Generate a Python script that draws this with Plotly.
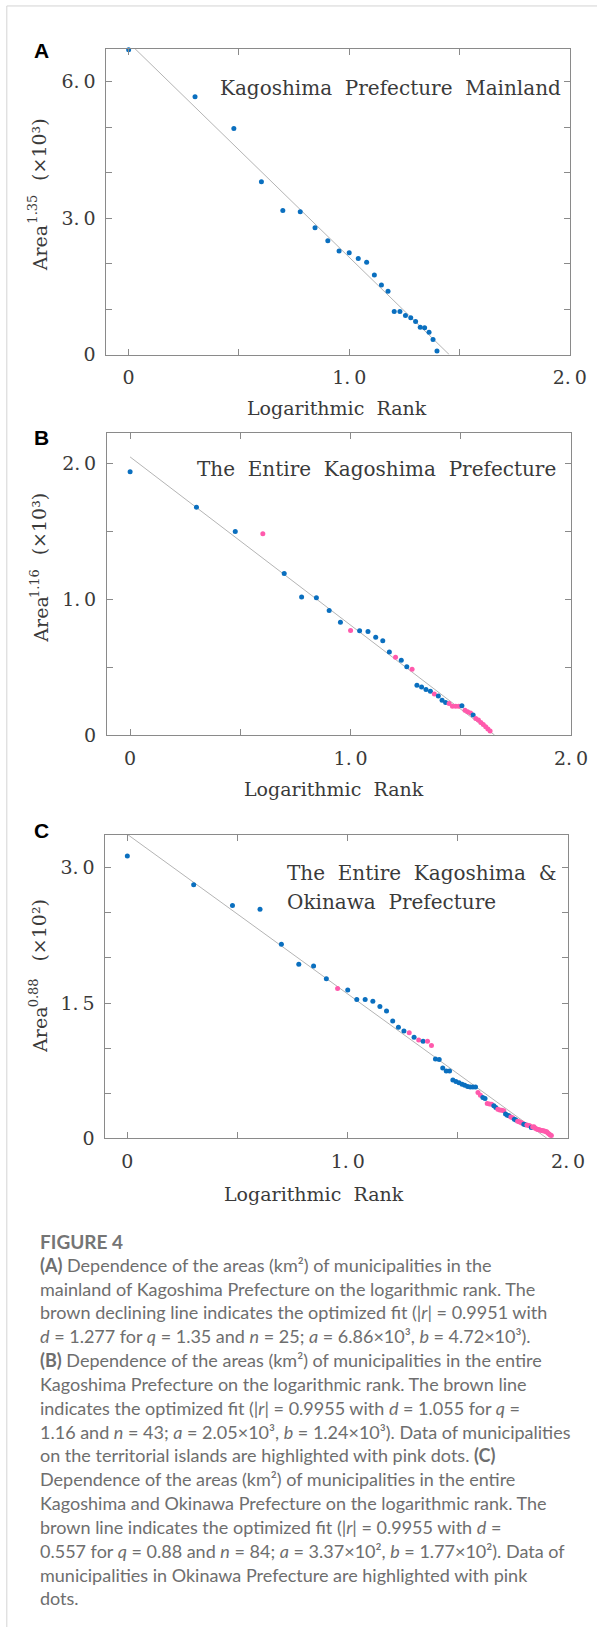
import plotly.graph_objects as go

W, H = 614, 1638

# ---------------- data ----------------
# Panel A: Kagoshima mainland (n = 25)
a_rank_log = [0.000, 0.301, 0.477, 0.602, 0.699, 0.778, 0.845, 0.903, 0.954, 1.000,
              1.041, 1.079, 1.114, 1.146, 1.176, 1.204, 1.230, 1.255, 1.279, 1.301,
              1.322, 1.342, 1.362, 1.380, 1.398]
a_area = [6.70, 5.67, 4.97, 3.80, 3.17, 3.14, 2.79, 2.50, 2.28, 2.24,
          2.11, 2.03, 1.75, 1.53, 1.39, 0.95, 0.95, 0.86, 0.81, 0.73,
          0.60, 0.59, 0.49, 0.33, 0.08]
a_group = ["m"] * 25
a_fit = (6.86, 4.72)

# Panel B: entire Kagoshima (n = 43); "i" = territorial islands (pink)
b_rank_log = [0.000, 0.301, 0.477, 0.602, 0.699, 0.778, 0.845, 0.903, 0.954, 1.000,
              1.041, 1.079, 1.114, 1.146, 1.176, 1.204, 1.230, 1.255, 1.279, 1.301,
              1.322, 1.342, 1.362, 1.380, 1.398, 1.415, 1.431, 1.447, 1.462, 1.477,
              1.491, 1.505, 1.519, 1.531, 1.544, 1.556, 1.568, 1.580, 1.591, 1.602,
              1.613, 1.623, 1.633]
b_area = [1.941, 1.679, 1.500, 1.483, 1.190, 1.018, 1.011, 0.918, 0.832, 0.771,
          0.769, 0.764, 0.720, 0.695, 0.612, 0.573, 0.551, 0.504, 0.485, 0.366,
          0.354, 0.335, 0.322, 0.303, 0.288, 0.256, 0.239, 0.232, 0.212, 0.212,
          0.212, 0.215, 0.183, 0.171, 0.163, 0.147, 0.122, 0.110, 0.093, 0.078,
          0.061, 0.045, 0.030]
b_group = ["m", "m", "m", "i", "m", "m", "m", "m", "m", "i",
           "m", "m", "m", "m", "m", "i", "m", "m", "i", "m",
           "m", "m", "m", "i", "m", "m", "m", "i", "i", "i",
           "i", "m", "i", "i", "i", "m", "i", "i", "i", "i",
           "i", "i", "i"]
b_fit = (2.05, 1.24)

# Panel C: Kagoshima & Okinawa (n = 84); "i" = Okinawa (pink)
c_rank_log = [0.000, 0.301, 0.477, 0.602, 0.699, 0.778, 0.845, 0.903, 0.954, 1.000,
              1.041, 1.079, 1.114, 1.146, 1.176, 1.204, 1.230, 1.255, 1.279, 1.301,
              1.322, 1.342, 1.362, 1.380, 1.398, 1.415, 1.431, 1.447, 1.462, 1.477,
              1.491, 1.505, 1.519, 1.531, 1.544, 1.556, 1.568, 1.580, 1.591, 1.602,
              1.613, 1.623, 1.633, 1.643, 1.653, 1.663, 1.672, 1.681, 1.690, 1.699,
              1.708, 1.716, 1.724, 1.732, 1.740, 1.748, 1.756, 1.763, 1.771, 1.778,
              1.785, 1.792, 1.799, 1.806, 1.813, 1.820, 1.826, 1.833, 1.839, 1.845,
              1.851, 1.857, 1.863, 1.869, 1.875, 1.881, 1.886, 1.892, 1.898, 1.903,
              1.908, 1.914, 1.919, 1.924]
c_area = [3.13, 2.81, 2.58, 2.54, 2.15, 1.93, 1.91, 1.77, 1.66, 1.645,
          1.54, 1.54, 1.52, 1.46, 1.41, 1.30, 1.23, 1.19, 1.17, 1.12,
          1.09, 1.075, 1.075, 1.03, 0.88, 0.874, 0.78, 0.745, 0.745, 0.646,
          0.63, 0.617, 0.60, 0.587, 0.575, 0.57, 0.569, 0.569, 0.507, 0.477,
          0.452, 0.44, 0.385, 0.38, 0.378, 0.36, 0.341, 0.323, 0.315, 0.312,
          0.305, 0.27, 0.255, 0.25, 0.235, 0.228, 0.21, 0.202, 0.19, 0.184,
          0.175, 0.167, 0.155, 0.151, 0.147, 0.142, 0.138, 0.121, 0.125, 0.129,
          0.112, 0.103, 0.098, 0.094, 0.09, 0.087, 0.085, 0.08, 0.076, 0.072,
          0.06, 0.047, 0.037, 0.03]
c_group = ["m", "m", "m", "m", "m", "m", "m", "m", "i", "m",
           "m", "m", "m", "m", "m", "m", "m", "m", "i", "m",
           "i", "m", "i", "i", "m", "m", "m", "m", "m", "m",
           "m", "m", "m", "m", "m", "m", "m", "m", "i", "i",
           "m", "m", "i", "i", "i", "m", "m", "i", "i", "i",
           "i", "m", "m", "m", "i", "i", "m", "m", "i", "i",
           "i", "i", "m", "m", "i", "i", "i", "m", "i", "i",
           "i", "i", "i", "i", "i", "i", "i", "i", "i", "i",
           "i", "i", "i", "i"]
c_fit = (3.37, 1.77)

NB = "\u00a0"
panel_letters = ["A", "B", "C"]
panel_titles = [["Kagoshima" + NB + " Prefecture" + NB + " Mainland"],
                ["The" + NB + " Entire" + NB + " Kagoshima" + NB + " Prefecture"],
                ["The" + NB + " Entire" + NB + " Kagoshima" + NB + " &",
                 "Okinawa" + NB + " Prefecture"]]
y_title_base = "Area"
y_title_exp = ["1.35", "1.16", "0.88"]
y_title_unit = ["(×10³)", "(×10³)", "(×10²)"]
x_title = "Logarithmic" + NB + " Rank"
x_major = [0, 1.0, 2.0]
x_major_text = ["0", "1.\u20090", "2.\u20090"]
x_minor = [0.5, 1.5]
y_major = [[0, 3, 6], [0, 1.0, 2.0], [0, 1.5, 3.0]]
y_major_text = [["0", "3.\u20090", "6.\u20090"],
                ["0", "1.\u20090", "2.\u20090"],
                ["0", "1.\u20095", "3.\u20090"]]
y_minor = [[1, 2, 4, 5], [0.5, 1.5], [0.5, 1.0, 2.0, 2.5]]

fig_label = "FIGURE 4"
caption_lines = [
    "<b>(A)</b> Dependence of the areas (km²) of municipalities in the",
    "mainland of Kagoshima Prefecture on the logarithmic rank. The",
    "brown declining line indicates the optimized fit (|<i>r</i>| = 0.9951 with",
    "<i>d</i> = 1.277 for <i>q</i> = 1.35 and <i>n</i> = 25; <i>a</i> = 6.86×10³, <i>b</i> = 4.72×10³).",
    "<b>(B)</b> Dependence of the areas (km²) of municipalities in the entire",
    "Kagoshima Prefecture on the logarithmic rank. The brown line",
    "indicates the optimized fit (|<i>r</i>| = 0.9955 with <i>d</i> = 1.055 for <i>q</i> =",
    "1.16 and <i>n</i> = 43; <i>a</i> = 2.05×10³, <i>b</i> = 1.24×10³). Data of municipalities",
    "on the territorial islands are highlighted with pink dots. <b>(C)</b>",
    "Dependence of the areas (km²) of municipalities in the entire",
    "Kagoshima and Okinawa Prefecture on the logarithmic rank. The",
    "brown line indicates the optimized fit (|<i>r</i>| = 0.9955 with <i>d</i> =",
    "0.557 for <i>q</i> = 0.88 and <i>n</i> = 84; <i>a</i> = 3.37×10², <i>b</i> = 1.77×10²). Data of",
    "municipalities in Okinawa Prefecture are highlighted with pink",
    "dots.",
]

# ---------------- layout / style ----------------
BLUE = "#0a6fbf"
PINK = "#ff5aac"
SERIF = "DejaVu Serif"
TXT = "#3a3a3a"
AXC = "#8a8a8a"

def px(x):
    return x / W

def py(y):
    return 1 - y / H

# pixel boxes of the three plot areas: left, right, top, bottom
boxes = [(109.3, 586.0, 49.0, 357.0),
         (110.0, 587.3, 435.7, 740.0),
         (108.3, 584.3, 840.7, 1146.0)]
x_ranges = [[-0.1014, 2.0], [-0.105, 2.0], [-0.100, 2.0]]
y_ranges = [[0, 6.725], [0, 2.228], [0, 3.362]]
# y-title pieces: (x, y) centres of "Area", exponent, unit
ytitle_parts = [[(41, 250), (34, 211), (40, 150)],
                [(42, 624), (35, 588), (41, 527)],
                [(41, 1037), (34, 1000), (40, 936)]]
xtitle_pos = [(347, 410.7), (343, 794), (323, 1201.7)]
letter_pos = [(33, 51), (33, 440), (33, 836)]
ptitle_pos = [[(224, 88.3, "left")], [(201, 472.3, "left")],
              [(293, 879, "left"), (293, 907.7, "left")]]

panels = [(a_rank_log, a_area, a_group, a_fit),
          (b_rank_log, b_area, b_group, b_fit),
          (c_rank_log, c_area, c_group, c_fit)]

fig = go.Figure()
layout = dict(width=W, height=H, autosize=False,
              margin=dict(l=0, r=0, t=0, b=0),
              paper_bgcolor="white", plot_bgcolor="white",
              showlegend=False, annotations=[], shapes=[])

color_map = {"m": BLUE, "i": PINK}
for k, (xs, ys, grp, (fa, fb)) in enumerate(panels):
    sfx = "" if k == 0 else str(k + 1)
    xa, ya = "x" + sfx, "y" + sfx
    # fit line from the two fit parameters
    fig.add_trace(go.Scatter(x=[0, fa / fb], y=[fa, 0], mode="lines",
                             line=dict(color="#b4b4b4", width=1),
                             xaxis=xa, yaxis=ya, hoverinfo="skip"))
    fig.add_trace(go.Scatter(x=xs, y=ys, mode="markers",
                             marker=dict(size=5, color=[color_map[g] for g in grp],
                                         line=dict(width=0)),
                             xaxis=xa, yaxis=ya, cliponaxis=False))
    l, r, t, b = boxes[k]
    common = dict(showgrid=False, zeroline=False, showline=True, linecolor=AXC,
                  linewidth=1, mirror="ticks", ticks="inside", ticklen=6,
                  tickcolor=AXC, tickwidth=1, ticklabelstandoff=6,
                  tickfont=dict(family=SERIF, size=19, color=TXT))
    layout["xaxis" + sfx] = dict(common, domain=[px(l), px(r)], range=x_ranges[k],
                                 anchor=ya, tickmode="array", tickvals=x_major,
                                 ticktext=x_major_text,
                                 minor=dict(tickmode="array", tickvals=x_minor,
                                            ticks="inside", ticklen=6,
                                            tickcolor=AXC, tickwidth=1))
    layout["yaxis" + sfx] = dict(common, domain=[py(b), py(t)], range=y_ranges[k],
                                 anchor=xa, tickmode="array", tickvals=y_major[k],
                                 ticktext=y_major_text[k],
                                 minor=dict(tickmode="array", tickvals=y_minor[k],
                                            ticks="inside", ticklen=6,
                                            tickcolor=AXC, tickwidth=1))
    ann = layout["annotations"]
    pieces = [(y_title_base, 19), (y_title_exp[k], 13), (y_title_unit[k], 19)]
    for (txt, fs), (tx, ty) in zip(pieces, ytitle_parts[k]):
        ann.append(dict(text=txt, x=px(tx), y=py(ty), xref="paper", yref="paper",
                        textangle=-90, showarrow=False, xanchor="center",
                        yanchor="middle", font=dict(family=SERIF, size=fs, color=TXT)))
    tx, ty = xtitle_pos[k]
    ann.append(dict(text=x_title, x=px(tx), y=py(ty), xref="paper", yref="paper",
                    showarrow=False, xanchor="center", yanchor="middle",
                    font=dict(family=SERIF, size=19, color=TXT)))
    tx, ty = letter_pos[k]
    ann.append(dict(text="<b>" + panel_letters[k] + "</b>", x=px(tx), y=py(ty),
                    xref="paper", yref="paper", showarrow=False,
                    xanchor="left", yanchor="middle",
                    font=dict(family="Liberation Sans", size=21, color="black")))
    for line, (tx, ty, anc) in zip(panel_titles[k], ptitle_pos[k]):
        ann.append(dict(text=line, x=px(tx), y=py(ty), xref="paper", yref="paper",
                        showarrow=False, xanchor=anc, yanchor="middle",
                        font=dict(family=SERIF, size=20, color=TXT)))

ann = layout["annotations"]
ann.append(dict(text="<b>" + fig_label + "</b>", x=px(39), y=py(1250), xref="paper",
                yref="paper", showarrow=False, xanchor="left", yanchor="middle",
                font=dict(family="Lato", size=19, color="#757575")))
for i, line in enumerate(caption_lines):
    ann.append(dict(text=line, x=px(39), y=py(1273.3 + 24.0 * i), xref="paper",
                    yref="paper", showarrow=False, xanchor="left", yanchor="middle",
                    font=dict(family="Lato", size=18, color="#6e6e6e")))

# card border (left and top edges)
layout["shapes"] = [
    dict(type="line", xref="paper", yref="paper", x0=px(7), x1=px(7), y0=0, y1=py(6),
         line=dict(color="#d4d4d4", width=1)),
    dict(type="line", xref="paper", yref="paper", x0=px(7), x1=1, y0=py(6), y1=py(6),
         line=dict(color="#d4d4d4", width=1)),
]

fig.update_layout(**layout)
fig.write_html("out.html")
